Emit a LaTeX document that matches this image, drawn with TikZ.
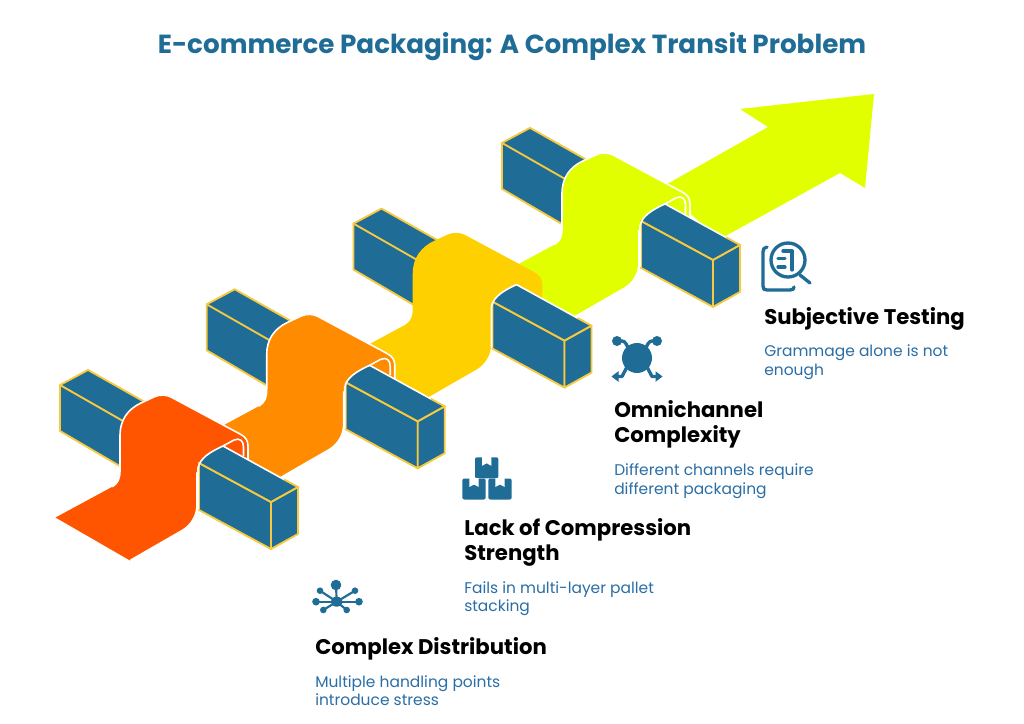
\documentclass[tikz,border=0pt]{standalone}
\usepackage{fontspec}
\usepackage{xcolor}
\setmainfont{Poppins}
\usetikzlibrary{arrows.meta,positioning}
\definecolor{boxblue}{HTML}{1F6C96}
\definecolor{subblue}{HTML}{2A6EA6}
\definecolor{boxedge}{HTML}{F6C93F}
\definecolor{segred}{HTML}{FF5500}
\definecolor{segorange}{HTML}{FF8C00}
\definecolor{segyellow}{HTML}{FFD000}
\definecolor{seglime}{HTML}{E2FF00}
\tikzset{
  boxface/.style={fill=boxblue,draw=boxedge,line width=1.4pt,line join=round},
  boxline/.style={draw=boxedge,line width=1.4pt,line cap=round},
  whiteline/.style={draw=white,line width=1.2pt},
  headtext/.style={anchor=north west,align=left,inner sep=0pt,font=\fontsize{15.9}{18.7}\selectfont\bfseries},
  subtext/.style={anchor=north west,align=left,inner sep=0pt,text=subblue,font=\fontsize{11.6}{14.2}\selectfont},
  iconline/.style={draw=boxblue,line width=2.5pt,line cap=round,line join=round},
  thinline/.style={draw=boxblue,line width=1.6pt,line cap=round}
}
% one packing icon, x/y of its top left corner
\newcommand{\packicon}[2]{
  \fill[boxblue,rounded corners=1.5pt] (#1,#2) rectangle ++(23.4,21);
  \fill[white] (#1+7,#2-0.5) -- (#1+7,#2+8.5) -- (#1+11.7,#2+6) -- (#1+16.4,#2+8.5) -- (#1+16.4,#2-0.5) -- cycle;
}
\begin{document}
\begin{tikzpicture}[x=0.75pt,y=-0.75pt]
    \useasboundingbox (0,0) rectangle (1024,724);
    \fill[white] (0,0) rectangle (1024,724);

    \node[font=\fontsize{19.65}{24}\selectfont\bfseries,text=boxblue] (title) at (512,47) {E-commerce Packaging: A Complex Transit Problem};

    % Arrow head behind the last segment
    \fill[seglime] (660,188) -- (768,127) -- (740,109) -- (874,94) -- (865,188) -- (840,173) -- (720,239) -- cycle;

    % Segments, back to front
    \foreach \k/\sx/\segfill/\segedge in {3/442/seglime/white,2/293.5/segyellow/segyellow,1/146.7/segorange/white,0/0/segred/white}{
      \begin{scope}[shift={(\sx,{-\k*80.7})}]
        % Back box
        \path[boxface] (60,385) -- (88,370) -- (150,405) -- (130,472) -- (60,431) -- cycle;
        \draw[boxline] (60,385) -- (130,425);
        % Ribbon
        \path[fill=\segfill,draw=\segedge,line width=1.2pt,line join=round]
          (55.5,517.5) -- (112,487) .. controls (118,483) and (120,479) .. (120,470)
          -- (120,435) .. controls (120,420) and (128,409) .. (141,403)
          -- (155,396.5) .. controls (160,394.5) and (166,394.5) .. (171,397)
          -- (240,434) .. controls (246,437) and (248,441) .. (248,446)
          -- (248,462) -- (223,450) -- (197,473) -- (197,505)
          .. controls (197,516) and (191,525) .. (183,530) -- (130,560.5) -- cycle;
        \fill[\segfill] (55.5,517.5) -- (112,487) -- (130,500) -- (130,560.5) -- cycle;
        % Inner side of the fold
        \draw[\segedge,line width=1.2pt,line join=round] (223,446) -- (234,440)
          .. controls (240,437.5) and (243.5,441) .. (243.5,447) -- (243.5,456);
        % Front box
        \path[boxface] (199,463) -- (271,502) -- (271,549) -- (199,510) -- cycle;
        \path[boxface] (271,502) -- (298,487) -- (298,534) -- (271,549) -- cycle;
        \fill[boxblue] (198,468) .. controls (200,458) and (210,452) .. (223,446) -- (298,487) -- (271,502) -- (199,463) -- cycle;
        \draw[boxline] (199,463) -- (271,502) -- (298,487);
        \draw[boxline] (284,479.5) -- (298,487);
        \draw[whiteline,line join=round] (198,509) -- (198,468) .. controls (200,458) and (210,452) .. (223,446) -- (284,479.5);
      \end{scope}
    }

    % Subjective Testing
    \draw[iconline] (767,247) .. controls (764,247.5) and (763,249) .. (763,252) -- (763,286)
      .. controls (763,289) and (764,290) .. (767,290) -- (790,290) .. controls (793,290) and (794,289) .. (794,287);
    \fill[white] (788,260) circle (18);
    \draw[iconline] (788,260) circle (17);
    \draw[iconline] (800,275) -- (810,283);
    \draw[iconline] (778,258.5) -- (785,258.5);
    \draw[iconline] (778,267) -- (785,267);
    \draw[iconline] (783,251) -- (792,251) -- (792,270);
    \node[headtext] (subjhead) at (764,307) {Subjective Testing};
    \node[subtext] (subjsub) at (764,344.5) {Grammage alone is not\\enough};

    % Omnichannel Complexity
    \fill[boxblue] (637,358) circle (15);
    \fill[boxblue] (617,341) circle (5);
    \fill[boxblue] (657,341) circle (5);
    \draw[iconline] (617,341) -- (622,341) .. controls (625,341) and (627,345) .. (628,348);
    \draw[iconline] (657,341) -- (652,341) .. controls (649,341) and (647,345) .. (646,348);
    \draw[iconline] (627,367) -- (622,376.5) -- (617,376.5);
    \draw[iconline] (647,367) -- (652,376.5) -- (657,376.5);
    \fill[boxblue] (611.5,376.5) -- (618.5,371.2) -- (618.5,381.8) -- cycle;
    \fill[boxblue] (662.5,376.5) -- (655.5,371.2) -- (655.5,381.8) -- cycle;
    \node[headtext] (omnihead) at (614,400.5) {Omnichannel\\Complexity};
    \node[subtext] (omnisub) at (614,463) {Different channels require\\different packaging};

    % Lack of Compression Strength
    \packicon{475}{457.3}
    \packicon{462.3}{478.5}
    \packicon{488.3}{478.5}
    \node[headtext] (lackhead) at (464,518.5) {Lack of Compression\\Strength};
    \node[subtext] (lacksub) at (464,581) {Fails in multi-layer pallet\\stacking};

    % Complex Distribution
    \foreach \dx/\dy/\dr in {336/585/5.3,316/601.7/3.8,359/601.7/3.8,320/590.7/3.3,355/590.7/3.3,323.3/610/3.3,346.7/610/3.3}{
      \draw[thinline] (336.7,601.7) -- (\dx,\dy);
      \fill[boxblue] (\dx,\dy) circle (\dr);
    }
    \fill[boxblue] (336.7,601.7) ellipse (6 and 5);
    \node[headtext] (disthead) at (315,637.5) {Complex Distribution};
    \node[subtext] (distsub) at (315,675) {Multiple handling points\\introduce stress};
\end{tikzpicture}
\end{document}
